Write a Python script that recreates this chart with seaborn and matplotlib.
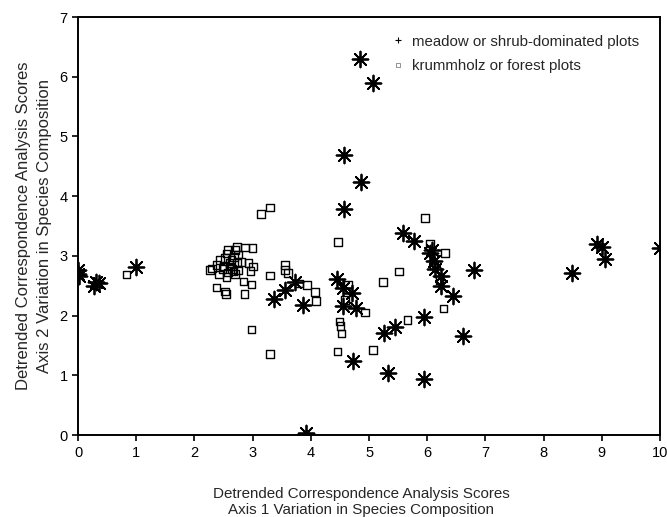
import matplotlib
matplotlib.use("Agg")
import matplotlib.pyplot as plt
from matplotlib.lines import Line2D
import seaborn as sns
import pandas as pd

# Meadow or shrub-dominated plots (stars)
meadow_x = [0.00, 0.00, 0.02, 0.31, 0.28, 0.36, 0.99, 3.37, 3.55, 3.73, 3.87, 3.92,
            4.45, 4.55, 4.70, 4.56, 4.77, 4.57, 4.57, 4.86, 4.85, 5.06, 4.73, 5.25,
            5.32, 5.45, 5.58, 5.78, 5.95, 5.95, 6.04, 6.09, 6.12, 6.13, 6.23, 6.23,
            6.44, 6.80, 6.61, 8.48, 8.92, 9.01, 9.06, 10.00]
meadow_y = [2.76, 2.70, 2.66, 2.56, 2.50, 2.54, 2.82, 2.28, 2.43, 2.56, 2.18, 0.04,
            2.61, 2.47, 2.37, 2.16, 2.12, 3.79, 4.69, 4.24, 6.29, 5.89, 1.24, 1.71,
            1.04, 1.81, 3.39, 3.25, 1.97, 0.94, 3.04, 3.09, 2.92, 2.78, 2.66, 2.50,
            2.33, 2.76, 1.66, 2.72, 3.20, 3.15, 2.94, 3.14]

# Krummholz or forest plots (squares)
forest_x = [2.73, 2.87, 3.00, 2.58, 2.55, 2.70, 2.75, 2.44, 2.53, 2.64, 2.30, 2.38,
            2.50, 2.61, 2.73, 2.81, 2.93, 3.01, 2.27, 2.42, 2.55, 2.67, 2.75, 2.96,
            3.30, 2.84, 2.98, 2.38, 2.53, 2.54, 2.86, 2.60, 2.65, 2.70, 2.48, 2.58,
            2.68, 3.14, 3.30, 0.83, 3.56, 3.56, 3.61, 3.80, 3.93, 4.07, 4.09, 2.98,
            3.30, 4.47, 5.51, 5.24, 4.64, 4.59, 4.93, 4.49, 4.51, 4.53, 4.46, 5.07,
            5.66, 6.28, 5.96, 6.05, 6.31, 6.21, 6.12]
forest_y = [3.15, 3.14, 3.13, 3.10, 3.04, 3.10, 3.02, 2.93, 2.96, 2.93, 2.79, 2.85,
            2.82, 2.82, 2.88, 2.90, 2.88, 2.82, 2.76, 2.69, 2.65, 2.74, 2.76, 2.75,
            2.67, 2.57, 2.52, 2.47, 2.40, 2.36, 2.36, 2.88, 2.78, 2.70, 2.78, 2.72,
            2.98, 3.70, 3.81, 2.69, 2.85, 2.76, 2.71, 2.54, 2.51, 2.39, 2.24, 1.77,
            1.36, 3.23, 2.74, 2.56, 2.52, 2.26, 2.05, 1.90, 1.83, 1.70, 1.40, 1.42,
            1.93, 2.12, 3.63, 3.21, 3.05, 2.60, 2.85]

x_ticks = [0, 1, 2, 3, 4, 5, 6, 7, 8, 9, 10]
y_ticks = [0, 1, 2, 3, 4, 5, 6, 7]

meadow = pd.DataFrame({"x": meadow_x, "y": meadow_y})
forest = pd.DataFrame({"x": forest_x, "y": forest_y})

sns.set_style("ticks")
plt.rcParams["font.family"] = ["Liberation Sans", "DejaVu Sans"]

fig = plt.figure(figsize=(6.67, 5.17), dpi=100)
ax = fig.add_axes([0.117, 0.1586, 0.8726, 0.8085])

sns.scatterplot(data=forest, x="x", y="y", ax=ax, marker="s", s=30,
                facecolor="none", edgecolor="black", linewidth=1.0, zorder=3)
sns.scatterplot(data=meadow, x="x", y="y", ax=ax, marker=(8, 2, 0), s=130,
                color="black", linewidth=1.3, zorder=4)
sns.scatterplot(data=meadow, x="x", y="y", ax=ax, marker="o", s=18,
                color="black", linewidth=0, zorder=5)

ax.set_xlim(0, 10)
ax.set_ylim(0, 7)
ax.set_xticks(x_ticks)
ax.set_yticks(y_ticks)
ax.tick_params(axis="both", labelsize=10.5, length=4, width=1.2, color="black",
               labelcolor="black", direction="out")
ax.tick_params(axis="x", pad=4)
for sp in ax.spines.values():
    sp.set_linewidth(1.4)
    sp.set_color("black")
    sp.set_clip_on(False)

ax.set_xlabel("Detrended Correspondence Analysis Scores\nAxis 1 Variation in Species Composition",
              fontsize=10.9, linespacing=1.15)
ax.xaxis.set_label_coords(0.486, -0.125)
ax.set_ylabel("Detrended Correspondence Analysis Scores\nAxis 2 Variation in Species Composition",
              fontsize=12, labelpad=5, linespacing=1.55)

handles = [
    Line2D([], [], linestyle="none", marker="+", markersize=4, color="black", markeredgewidth=0.8),
    Line2D([], [], linestyle="none", marker="s", markersize=3, markerfacecolor="none",
           markeredgecolor="gray", markeredgewidth=0.6),
]
ax.legend(handles, ["meadow or shrub-dominated plots", "krummholz or forest plots"],
          loc="upper left", bbox_to_anchor=(0.517, 0.99), frameon=False, fontsize=10.8,
          handlelength=0.8, handletextpad=0.5, labelspacing=0.7)

fig.savefig("out.png", dpi=100)
